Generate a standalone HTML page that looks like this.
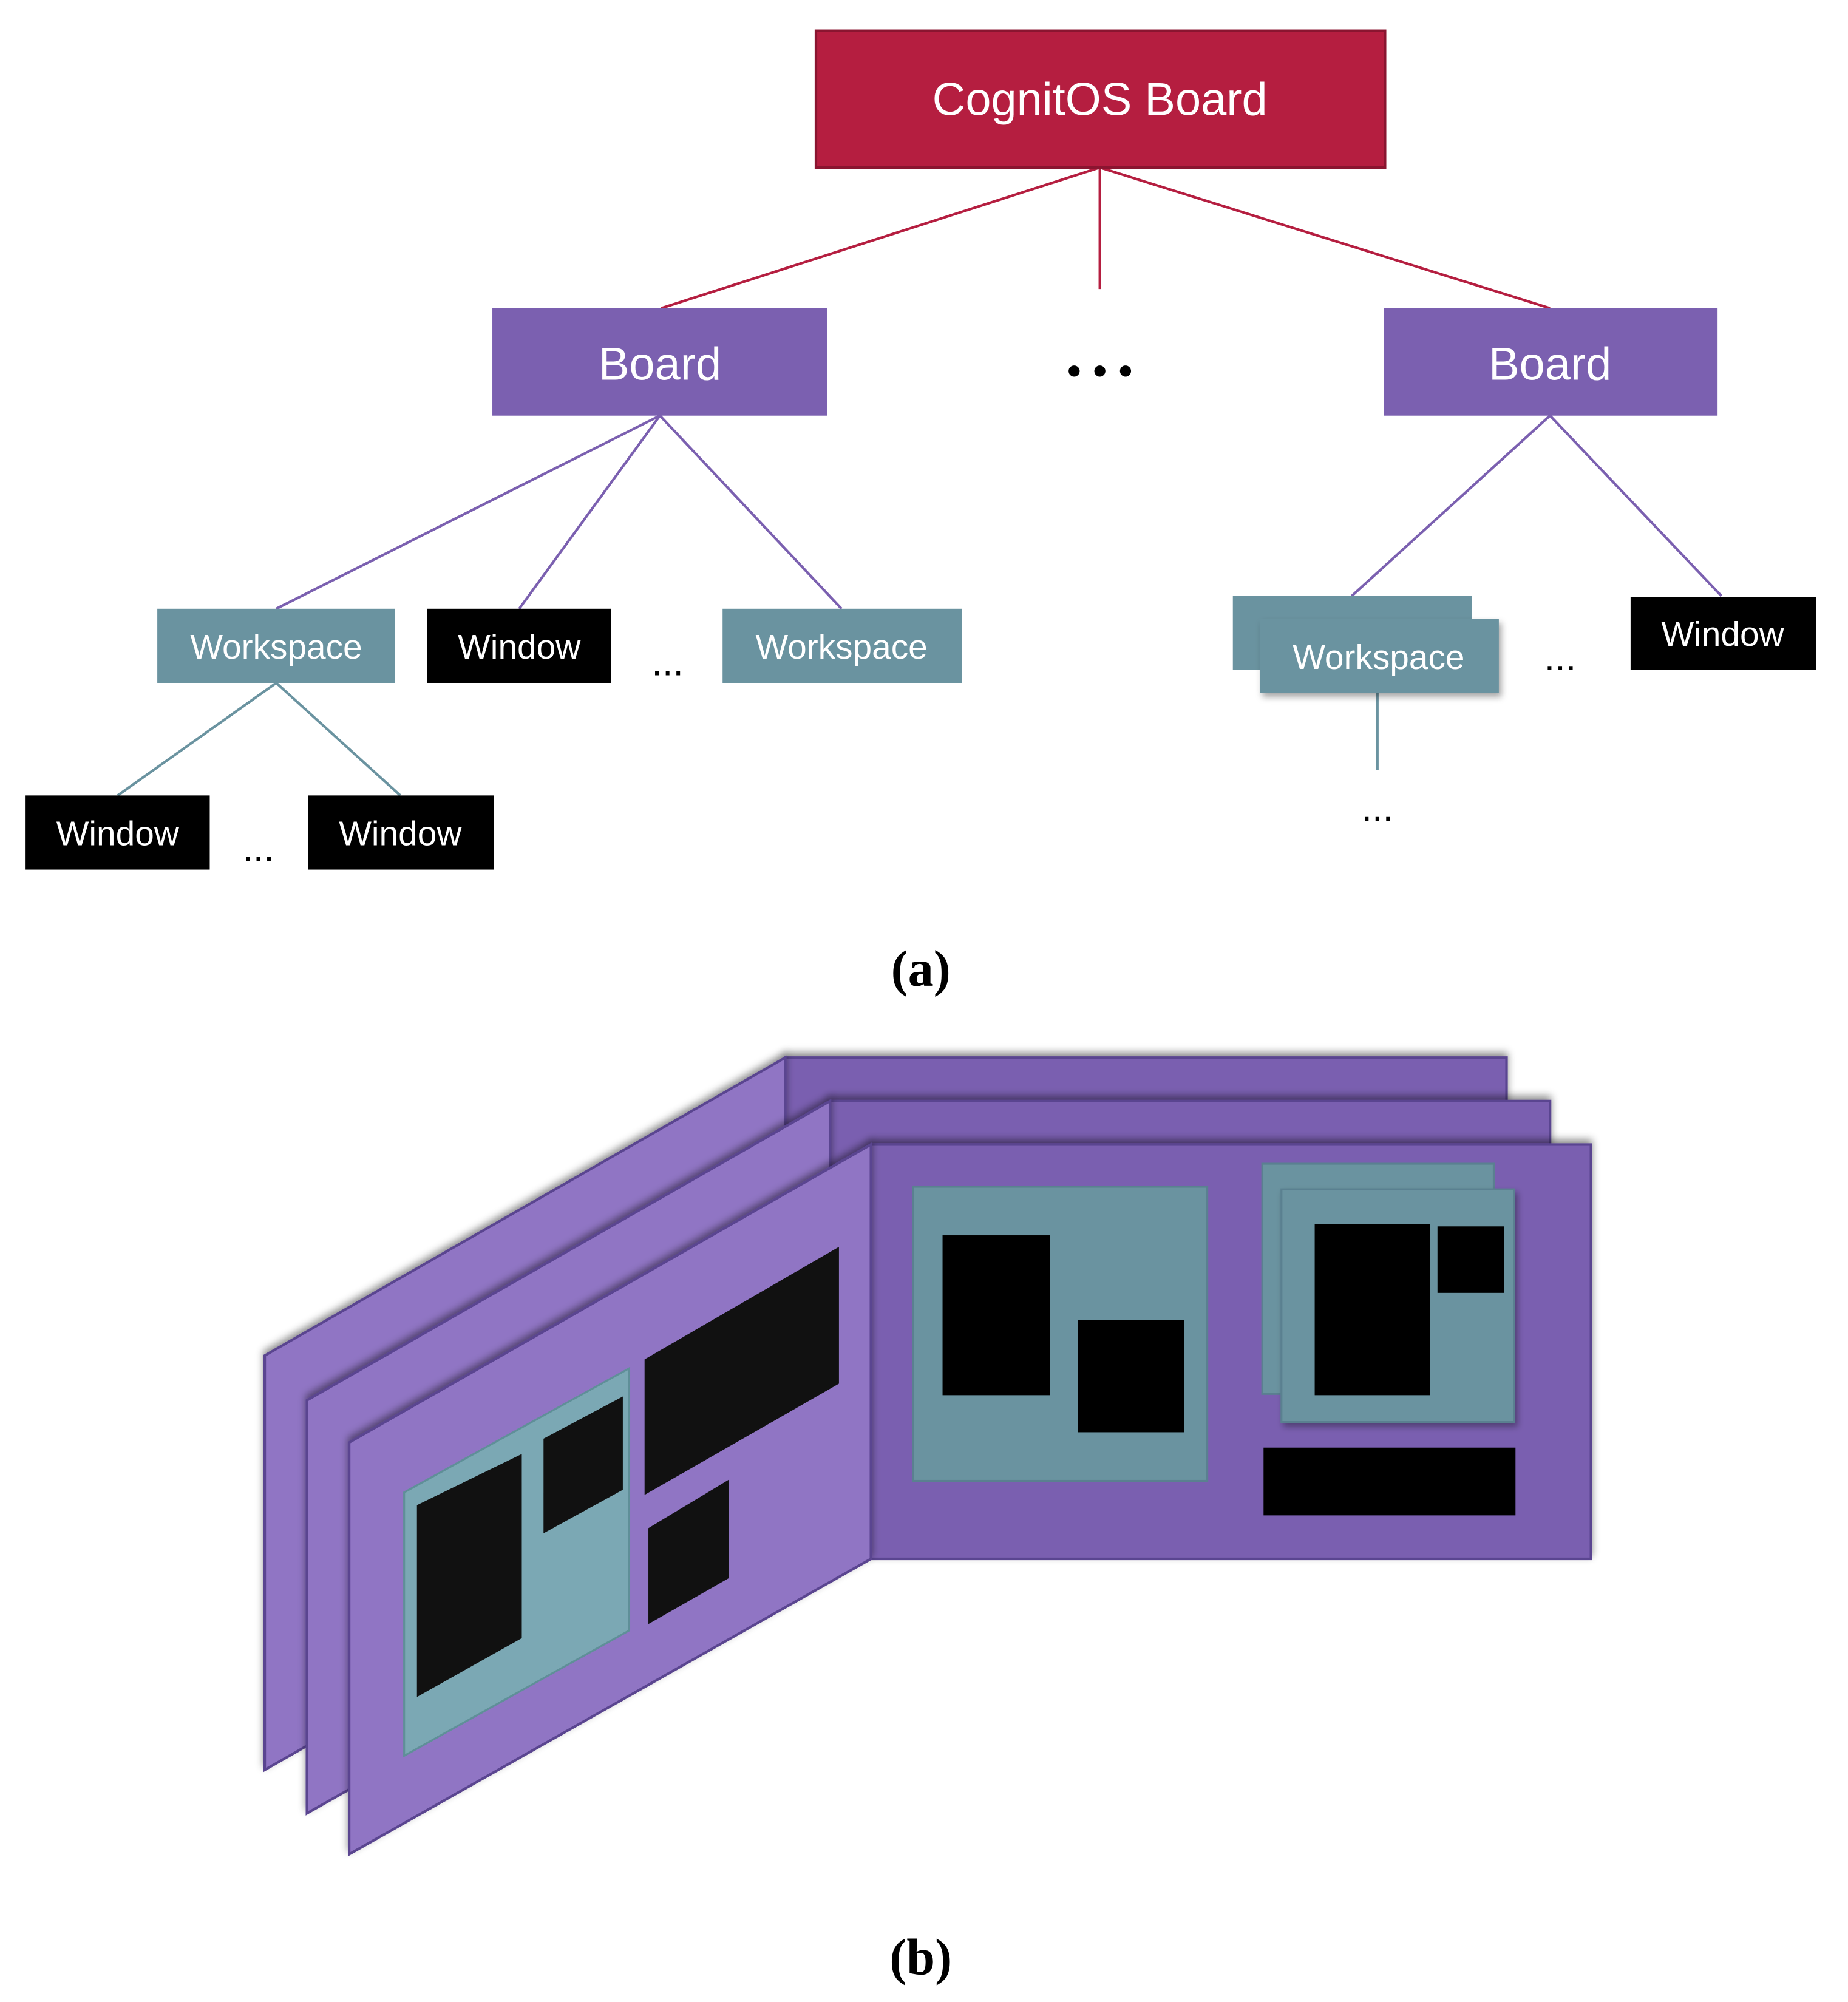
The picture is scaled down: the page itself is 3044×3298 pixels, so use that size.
<!DOCTYPE html>
<html><head><style>html,body{margin:0;padding:0;background:#fff}svg{display:block}</style></head>
<body>
<svg width="3044" height="3298" viewBox="0 0 1445 1565.5" xmlns="http://www.w3.org/2000/svg" font-family="'Liberation Sans', sans-serif">
<defs>
<filter id="sh" x="-20%" y="-20%" width="140%" height="140%"><feDropShadow dx="0" dy="-3" stdDeviation="3" flood-color="#000" flood-opacity="0.45"/></filter>
<filter id="sh2" x="-20%" y="-20%" width="140%" height="140%"><feDropShadow dx="2" dy="3" stdDeviation="2.5" flood-color="#000" flood-opacity="0.35"/></filter>
</defs>
<g stroke="#b51e40" stroke-width="2">
<line x1="860" y1="131" x2="517" y2="241"/><line x1="860" y1="131" x2="860" y2="226"/><line x1="860" y1="131" x2="1212" y2="241"/>
</g>
<g stroke="#7b60b0" stroke-width="2">
<line x1="516" y1="325" x2="216" y2="476"/><line x1="516" y1="325" x2="406" y2="476"/><line x1="516" y1="325" x2="658" y2="476"/>
<line x1="1212" y1="325" x2="1057" y2="466"/><line x1="1212" y1="325" x2="1346" y2="466"/>
</g>
<g stroke="#6a93a0" stroke-width="2">
<line x1="216" y1="534" x2="92" y2="622"/><line x1="216" y1="534" x2="313" y2="622"/><line x1="1077" y1="542" x2="1077" y2="602"/>
</g>
<rect x="638" y="24" width="445" height="107" fill="#b51e40" stroke="#8a1530" stroke-width="2"/>
<text x="860" y="90" font-size="36" fill="#fff" text-anchor="middle">CognitOS Board</text>
<rect x="385" y="241" width="262" height="84" fill="#7b60b0"/>
<text x="516" y="297" font-size="36" fill="#fff" text-anchor="middle">Board</text>
<rect x="1082" y="241" width="261" height="84" fill="#7b60b0"/>
<text x="1212" y="297" font-size="36" fill="#fff" text-anchor="middle">Board</text>
<text x="860" y="301" font-size="32" fill="#000" text-anchor="middle">• • •</text>
<g font-size="27" fill="#fff" text-anchor="middle">
<rect x="123" y="476" width="186" height="58" fill="#6a93a0"/><text x="216" y="515">Workspace</text>
<rect x="334" y="476" width="144" height="58" fill="#000"/><text x="406" y="515">Window</text>
<rect x="565" y="476" width="187" height="58" fill="#6a93a0"/><text x="658" y="515">Workspace</text>
<rect x="964" y="466" width="187" height="58" fill="#6a93a0"/>
<rect x="985" y="484" width="187" height="58" fill="#6a93a0" filter="url(#sh2)"/><text x="1078" y="523">Workspace</text>
<rect x="1275" y="467" width="145" height="57" fill="#000"/><text x="1347" y="505">Window</text>
<rect x="20" y="622" width="144" height="58" fill="#000"/><text x="92" y="661">Window</text>
<rect x="241" y="622" width="145" height="58" fill="#000"/><text x="313" y="661">Window</text>
</g>
<g font-size="30" fill="#000" text-anchor="middle">
<text x="522" y="528">...</text><text x="1220" y="524">...</text><text x="202" y="673">...</text><text x="1077" y="642">...</text>
</g>
<text x="720" y="771" font-family="'Liberation Serif', serif" font-size="40" font-weight="bold" text-anchor="middle">(a)</text>
<g stroke="#5a4590" stroke-width="2">
<rect x="614" y="827" width="564" height="330" fill="#7a5fb0" filter="url(#sh)"/>
<polygon points="614,827 207,1060 207,1384 614,1152" fill="#9074c4" filter="url(#sh)"/>
<rect x="649" y="861" width="563" height="330" fill="#7a5fb0" filter="url(#sh)"/>
<polygon points="649,861 240,1095 240,1418 649,1186" fill="#9074c4" filter="url(#sh)"/>
<rect x="681" y="895" width="563" height="324" fill="#7a5fb0" filter="url(#sh)"/>
<polygon points="681,895 273,1128 273,1450 681,1219" fill="#9074c4" filter="url(#sh)"/>
</g>
<polygon points="316,1167 492,1070 492,1275 316,1373" fill="#7ba8b4" stroke="#5f8f98" stroke-width="1.5"/>
<g fill="#111">
<polygon points="326,1177 408,1137 408,1281 326,1327"/>
<polygon points="425,1125 487,1092 487,1165 425,1199"/>
<polygon points="504,1063 656,975 656,1082 504,1169"/>
<polygon points="507,1195 570,1157 570,1234 507,1270"/>
</g>
<rect x="714" y="928" width="230" height="230" fill="#6a93a0" stroke="#5a8090" stroke-width="1.5"/>
<rect x="737" y="966" width="84" height="125" fill="#000"/>
<rect x="843" y="1032" width="83" height="88" fill="#000"/>
<rect x="987" y="910" width="181" height="180" fill="#6a93a0" stroke="#5a8090" stroke-width="1.5"/>
<rect x="1002" y="930" width="182" height="182" fill="#6a93a0" stroke="#5a8090" stroke-width="1.5" filter="url(#sh2)"/>
<rect x="1028" y="957" width="90" height="134" fill="#000"/>
<rect x="1124" y="959" width="52" height="52" fill="#000"/>
<rect x="988" y="1132" width="197" height="53" fill="#000"/>
<text x="720" y="1544" font-family="'Liberation Serif', serif" font-size="40" font-weight="bold" text-anchor="middle">(b)</text>
</svg>
</body></html>
